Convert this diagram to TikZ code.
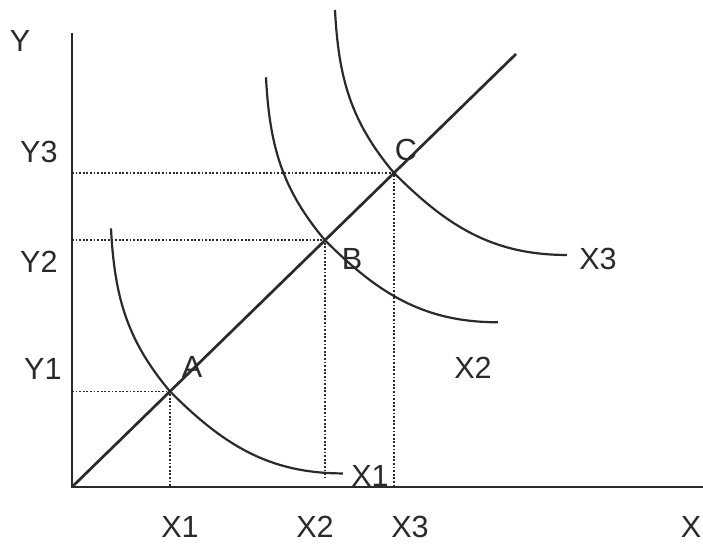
\documentclass[tikz,border=0pt]{standalone}
\usepackage{fontspec}
\setmainfont{Liberation Sans}
\usetikzlibrary{calc}
\definecolor{ink}{HTML}{2A2A2A}
\tikzset{
  axis/.style={draw=ink, line width=1.4pt},
  ray/.style={draw=ink, line width=1.35pt},
  iso/.style={draw=ink, line width=1.1pt},
  guide/.style={draw=ink, line width=0.9pt, dash pattern=on 0.9pt off 0.9pt},
  lbl/.style={font=\fontsize{15.3}{18}\selectfont, text=ink, inner sep=0pt},
}

\begin{document}
\begin{tikzpicture}[x=0.5pt, y=0.5pt]
\useasboundingbox (0,0) rectangle (703,545);

% =====================================================================
\coordinate (O)    at (72,58);
\coordinate (ytop) at (72,512);
\coordinate (xend) at (703,58);
\coordinate (ray)  at (516,491);

\coordinate (A) at ($(O)!0.2207!(ray)$);
\coordinate (B) at ($(O)!0.5698!(ray)$);
\coordinate (C) at ($(O)!0.7252!(ray)$);

% dotted guides to the axes
\foreach \p in {A,C}
  \draw[guide] (O |- \p) -- (\p) -- (\p |- O);
\draw[guide] (O |- B) -- (B) -- ($(B |- O)+(0,10)$);

% axes and the path through A, B, C
\draw[axis] (ytop) -- (O) -- (xend);
\draw[ray] (O) -- (ray);

% the three curves, one shape moved along the path
\foreach \p in {A,B,C}
  \draw[iso] ($(\p)+(-59,163)$) to[out=-87, in=130] (\p)
    to[out=-45, in=180] ++(173,-82);

% =====================================================================
\node[lbl] (ylab) at (20,504) {Y};
\node[lbl, anchor=east] (y3) at (58,393) {Y3};
\node[lbl, anchor=east] (y2) at (58,283) {Y2};
\node[lbl, anchor=east] (y1) at (62,176) {Y1};

\node[lbl] (x1) at (180,18) {X1};
\node[lbl] (x2) at (315,18) {X2};
\node[lbl] (x3) at (410,18) {X3};
\node[lbl] (xlab) at (691,18) {X};

\node[lbl] (alab) at ($(A)+(22,24)$) {A};
\node[lbl] (blab) at ($(B)+(27,-19)$) {B};
\node[lbl] (clab) at ($(C)+(12,23)$) {C};

\node[lbl] (c1) at (370,69) {X1};
\node[lbl] (c2) at (473,177) {X2};
\node[lbl] (c3) at (598,286) {X3};

\end{tikzpicture}
\end{document}
